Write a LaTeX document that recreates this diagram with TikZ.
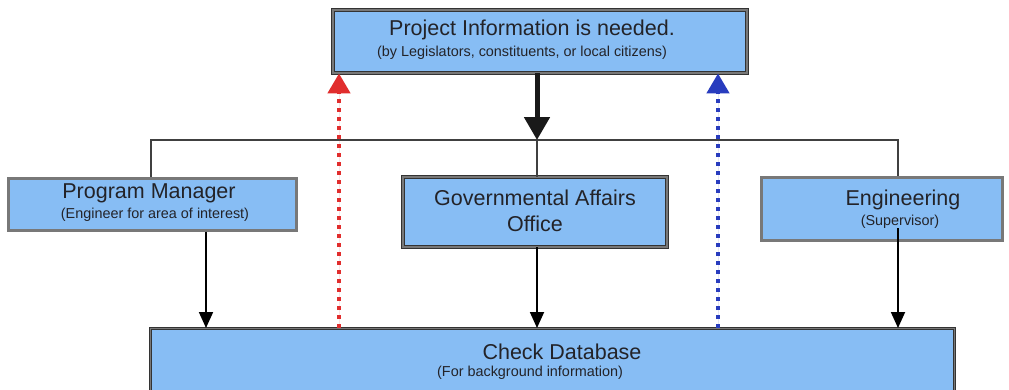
\documentclass[tikz,border=0pt]{standalone}
\usepackage{fontspec}
\setmainfont{Liberation Sans}
\usetikzlibrary{arrows.meta}
\definecolor{boxblue}{RGB}{135,189,244}
\definecolor{textdark}{RGB}{35,35,40}
\definecolor{edgegray}{RGB}{120,120,120}
\definecolor{dotred}{RGB}{225,45,45}
\definecolor{dotblue}{RGB}{40,60,190}
\tikzset{
  darkbox/.style={rectangle, fill=boxblue, draw=black!80, line width=0.8pt,
    double=edgegray, double distance=1.6pt, inner sep=0pt},
  lightbox/.style={rectangle, fill=boxblue, draw=edgegray, line width=3pt, inner sep=0pt},
  title/.style={text=textdark, font=\fontsize{21.5}{24}\selectfont, inner sep=0pt},
  subtitle/.style={text=textdark, font=\fontsize{14.4}{16}\selectfont, inner sep=0pt},
  branch/.style={draw=black!75, line width=1.3pt},
  flow/.style={draw=black, line width=1.8pt, -{Triangle[length=16pt,width=14pt]}},
  mainflow/.style={draw=black!90, line width=5pt, -{Triangle[length=23pt,width=25pt]}},
  feedback/.style={line width=4.5pt, dash pattern=on 4.5pt off 4.5pt,
    -{Triangle[length=20pt,width=22pt]}}
}
\begin{document}
\begin{tikzpicture}[x=1pt,y=-1pt]
\clip (0,0) rectangle (1009,389);
\fill[white] (0,0) rectangle (1009,389);

% boxes
\node[darkbox, minimum width=414pt, minimum height=63pt] (need) at (540,41.5) {};
\node[lightbox, minimum width=288pt, minimum height=52pt] (pm) at (152,204) {};
\node[darkbox, minimum width=264pt, minimum height=70pt] (gov) at (535,212) {};
\node[lightbox, minimum width=241pt, minimum height=63pt] (eng) at (882,208.5) {};
\node[darkbox, minimum width=804pt, minimum height=90pt, anchor=north west] (db) at (150,328) {};

% texts
\node[title] (needT) at (532,30) {Project Information is needed.};
\node[subtitle] (needS) at (522,53) {(by Legislators, constituents, or local citizens)};
\node[title] (pmT) at (149,193) {Program Manager};
\node[subtitle] (pmS) at (155,215) {(Engineer for area of interest)};
\node[title] (govT) at (535,198) {Governmental Affairs};
\node[title] (govO) at (535,224) {Office};
\node[title] (engT) at (903,200) {Engineering};
\node[subtitle] (engS) at (900,222) {(Supervisor)};
\node[title] (dbT) at (562,352) {Check Database};
\node[subtitle] (dbS) at (530,373) {(For background information)};

% branching bus
\coordinate (busL) at (151,140);
\coordinate (busR) at (898,140);
\coordinate (busM) at (537,140);
\draw[branch] (pm.north -| busL) -- (busL) -- (busR) -- (eng.north -| busR);
\draw[branch] (busM) -- (gov.north -| busM);

% main request arrow
\draw[mainflow] (need.south -| busM) -- (busM);

% arrows into the database
\coordinate (pmX) at (206,0);
\coordinate (engStart) at (898,228);
\draw[flow] (pm.south -| pmX) -- (db.north -| pmX);
\draw[flow] (gov.south -| busM) -- (db.north -| busM);
\draw[flow] (engStart) -- (db.north -| engStart);

% answers back to the requester
\coordinate (redX) at (339,0);
\coordinate (blueX) at (718,0);
\draw[feedback, draw=dotred, fill=dotred] (db.north -| redX) -- (need.south -| redX);
\draw[feedback, draw=dotblue, fill=dotblue] (db.north -| blueX) -- (need.south -| blueX);
\end{tikzpicture}
\end{document}
